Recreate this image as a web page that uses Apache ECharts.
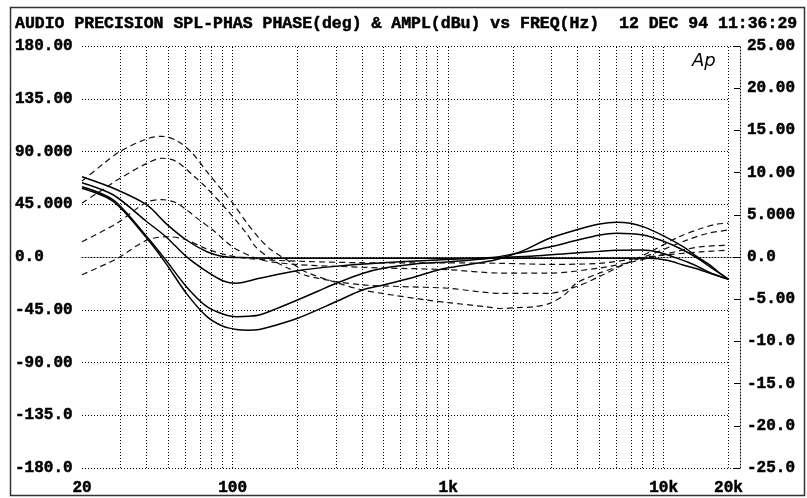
<!DOCTYPE html>
<html><head><meta charset="utf-8">
<script src="https://cdn.jsdelivr.net/npm/echarts@6/dist/echarts.min.js"></script>
<style>html,body{margin:0;padding:0;background:#fff}#c{width:807px;height:498px}</style>
</head><body><div id="c"></div>
<script>
const titleText = 'AUDIO PRECISION SPL-PHAS PHASE(deg) & AMPL(dBu) vs FREQ(Hz)  12 DEC 94 11:36:29';
const xTickFreqs = [20, 100, 1000, 10000, 20000];
const xTickLabels = ['20', '100', '1k', '10k', '20k'];
const gridFreqs = [20,30,40,50,60,70,80,90,100,200,300,400,500,600,700,800,900,1000,2000,3000,4000,5000,6000,7000,8000,9000,10000,20000];
const leftTicks = [-180,-135,-90,-45,0,45,90,135,180];
const leftTickLabels = ['-180.0','-135.0','-90.00','-45.00','0.0','45.000','90.000','135.00','180.00'];
const rightTicks = [-25,-20,-15,-10,-5,0,5,10,15,20,25];
const rightTickLabels = ['-25.0','-20.0','-15.0','-10.0','-5.00','0.0','5.000','10.00','15.00','20.00','25.00'];

// Phase (deg), solid lines
const phaseA_f = [20,28,40,49,61,76,90,110,150,300,1000,3000,6000,8600,10500,12300,14500,16400,18200,20000];
const phaseA   = [68.5,58.6,44.4,28.7,14.5,4.5,0.5,-0.5,-1,-1,-1,-1,-1,-1,-3,-6.8,-10.5,-13.9,-16.5,-19];
const phaseB_f = [20,28,40,49,61,76,90,104,133,200,300,500,800,1200,1700,2500,3500,5000,6000,8000,9500,11000,13000,14700,17000,20000];
const phaseB   = [63.4,52.9,30.1,17.3,0.3,-12.5,-20.2,-22.4,-18.2,-11.7,-8,-5,-3,-1.5,-0.3,0.8,2.8,4.8,5.8,6,4,0.3,-4.5,-9,-14.5,-19];
const phaseC_f = [20,28,40,49,61,76,90,104,120,133,160,200,250,303,400,500,700,1016,1560,2000,2960,4000,5050,6040,8020,10000,12300,14500,16360,20000];
const phaseC   = [60,48.6,17.3,-2.6,-25.3,-42.4,-48.6,-50.9,-50.5,-49.5,-44,-36.7,-29,-22.4,-14,-9.6,-6,-4,-1,2.5,8.5,14.5,18.8,20.2,18.8,13.5,6,-1.5,-8.3,-19];
const phaseD_f = [20,28,40,49,61,76,90,104,118,133,160,200,303,403,500,700,882,1016,1452,1734,2200,2960,4000,5050,6040,7000,8020,10000,12300,14500,16360,18000,20000];
const phaseD   = [58.6,47.2,16,-5.4,-31,-50.9,-59,-61.8,-62.5,-61.8,-58,-52.3,-38,-28,-23.9,-17,-11.5,-9,-4.5,-1.5,5,16,23.5,28.2,29.6,28.8,25.9,18,8.8,-0.5,-6.8,-13,-19];

// Amplitude (dBu), dashed lines
const amplE_f = [20,25,30,40,47,55,65,75,90,100,116,133,150,185,220,300,400,550,800,1000,1500,1750,2100,2500,2960,3500,3940,5050,6740,8940,11800,15000,17660,20000];
const amplE   = [9,11,12.5,14,14.3,13.8,12.3,10.3,7.8,6.4,4.1,2.2,0.9,-0.6,-1.8,-3.0,-3.9,-4.5,-5.1,-5.4,-5.9,-6.1,-6.0,-5.9,-5.5,-4.4,-3.1,-1.9,-0.75,0.8,2.4,3.4,3.9,4.0];
const amplF_f = [20,25,29,40,47,55,66,75,94,116,128,150,180,220,300,400,600,1000,1734,2960,3940,5050,6740,8940,12800,16000,20000];
const amplF   = [6.4,8.0,9.1,11.1,11.7,11.3,9.6,8.3,5.6,2.8,1.2,-0.2,-1.3,-2.2,-2.9,-3.3,-3.5,-3.7,-4.3,-4.3,-3.5,-2.3,-0.75,0.4,2.0,2.8,3.2];
const amplG_f = [20,29,40,47,55,61,70,81,100,124,145,200,300,500,1000,1734,2960,5050,7220,10340,14700,20000];
const amplG   = [1.8,4.0,6.5,6.8,6.4,5.6,4.4,3.2,1.2,0,-0.5,-0.9,-1.1,-1.3,-1.5,-1.9,-1.9,-1.3,-0.55,0.4,1.2,1.4];
const amplH_f = [20,29,40,50,60,75,95,120,200,500,1000,1734,3000,5050,8620,14700,20000];
const amplH   = [-2.1,-0.2,2.0,2.4,2.1,1.0,0.2,-0.2,-0.5,-0.7,-0.7,-0.75,-0.87,-0.75,0.04,0.6,0.8];

const lg = Math.log10;
const xMin = lg(20);
const xMax = lg(20000) + 11.5 / 215.5;
const FONT = '"Liberation Mono", "DejaVu Sans Mono", monospace';
const pair = (fs, vs) => fs.map((f, i) => [lg(f), vs[i]]);
const nearestLabel = (v, vals, labels) => {
  let best = 0;
  vals.forEach((t, i) => { if (Math.abs(t - v) < Math.abs(vals[best] - v)) best = i; });
  return labels[best];
};
const dotted = { color: '#000', width: 1, type: [1, 2] };
const labelStyle = { fontFamily: FONT, fontWeight: 'bold', fontSize: 16, color: '#000', textBorderColor: '#000', textBorderWidth: 0.5 };

const gridLines = [];
gridFreqs.forEach(f => gridLines.push({ xAxis: lg(f) }));
gridLines.push({ yAxis: 180 }, { yAxis: -180 });
leftTicks.filter(t => Math.abs(t) !== 180).forEach(t => gridLines.push([{ coord: [xMin, t] }, { coord: [lg(20000), t] }]));

const solid = (name, fs, vs) => ({
  name, type: 'line', yAxisIndex: 0, data: pair(fs, vs), showSymbol: false, smooth: 0.3,
  lineStyle: { color: '#000', width: 1.5 }, z: 3, silent: true
});
const dashed = (name, fs, vs) => ({
  name, type: 'line', yAxisIndex: 1, data: pair(fs, vs), showSymbol: false, smooth: 0.3,
  lineStyle: { color: '#111', width: 1.2, type: [6, 4] }, z: 3, silent: true
});

const chart = echarts.init(document.getElementById('c'), null, { renderer: 'canvas' });
chart.setOption({
  backgroundColor: '#fff',
  animation: false,
  grid: { left: 82, right: 67, top: 46, bottom: 30 },
  xAxis: {
    type: 'value', min: xMin, max: xMax,
    axisLine: { show: true, lineStyle: dotted },
    axisTick: { show: false },
    splitLine: { show: false },
    axisLabel: Object.assign({
      customValues: xTickFreqs.map(lg),
      formatter: v => nearestLabel(v, xTickFreqs.map(lg), xTickLabels),
      margin: 12
    }, labelStyle)
  },
  yAxis: [
    {
      type: 'value', min: -180, max: 180, interval: 45, position: 'left',
      axisLine: { show: false }, axisTick: { show: false }, splitLine: { show: false },
      axisLabel: Object.assign({
        formatter: v => nearestLabel(v, leftTicks, leftTickLabels),
        align: 'left', margin: 67
      }, labelStyle)
    },
    {
      type: 'value', min: -25, max: 25, interval: 5, position: 'right',
      axisLine: { show: true, lineStyle: dotted },
      axisTick: { show: true, inside: true, length: 6, lineStyle: { color: '#000', width: 1 } },
      splitLine: { show: false },
      axisLabel: Object.assign({
        formatter: v => nearestLabel(v, rightTicks, rightTickLabels),
        margin: 7
      }, labelStyle)
    }
  ],
  graphic: [
    { type: 'rect', shape: { x: 10.5, y: 7.5, width: 794, height: 488 }, style: { fill: 'none', stroke: '#333', lineWidth: 1.5 }, silent: true },
    { type: 'text', x: 15, y: 24, style: { text: titleText, font: 'bold 16.5px ' + FONT, fill: '#000', stroke: '#000', lineWidth: 0.5, verticalAlign: 'middle', align: 'left' }, silent: true },
    { type: 'text', x: 692, y: 61, style: { text: 'Ap', font: 'italic 18px "DejaVu Sans", sans-serif', fill: '#000', verticalAlign: 'middle', align: 'left' }, silent: true }
  ],
  series: [
    {
      type: 'line', data: [[xMin, 0]], showSymbol: false, lineStyle: { width: 0 }, silent: true, z: 1, clip: false,
      markLine: { silent: true, symbol: ['none', 'none'], label: { show: false }, lineStyle: dotted, data: gridLines, animation: false }
    },
    solid('phaseA', phaseA_f, phaseA),
    solid('phaseB', phaseB_f, phaseB),
    solid('phaseC', phaseC_f, phaseC),
    solid('phaseD', phaseD_f, phaseD),
    dashed('amplE', amplE_f, amplE),
    dashed('amplF', amplF_f, amplF),
    dashed('amplG', amplG_f, amplG),
    dashed('amplH', amplH_f, amplH)
  ]
});
</script>
</body></html>
